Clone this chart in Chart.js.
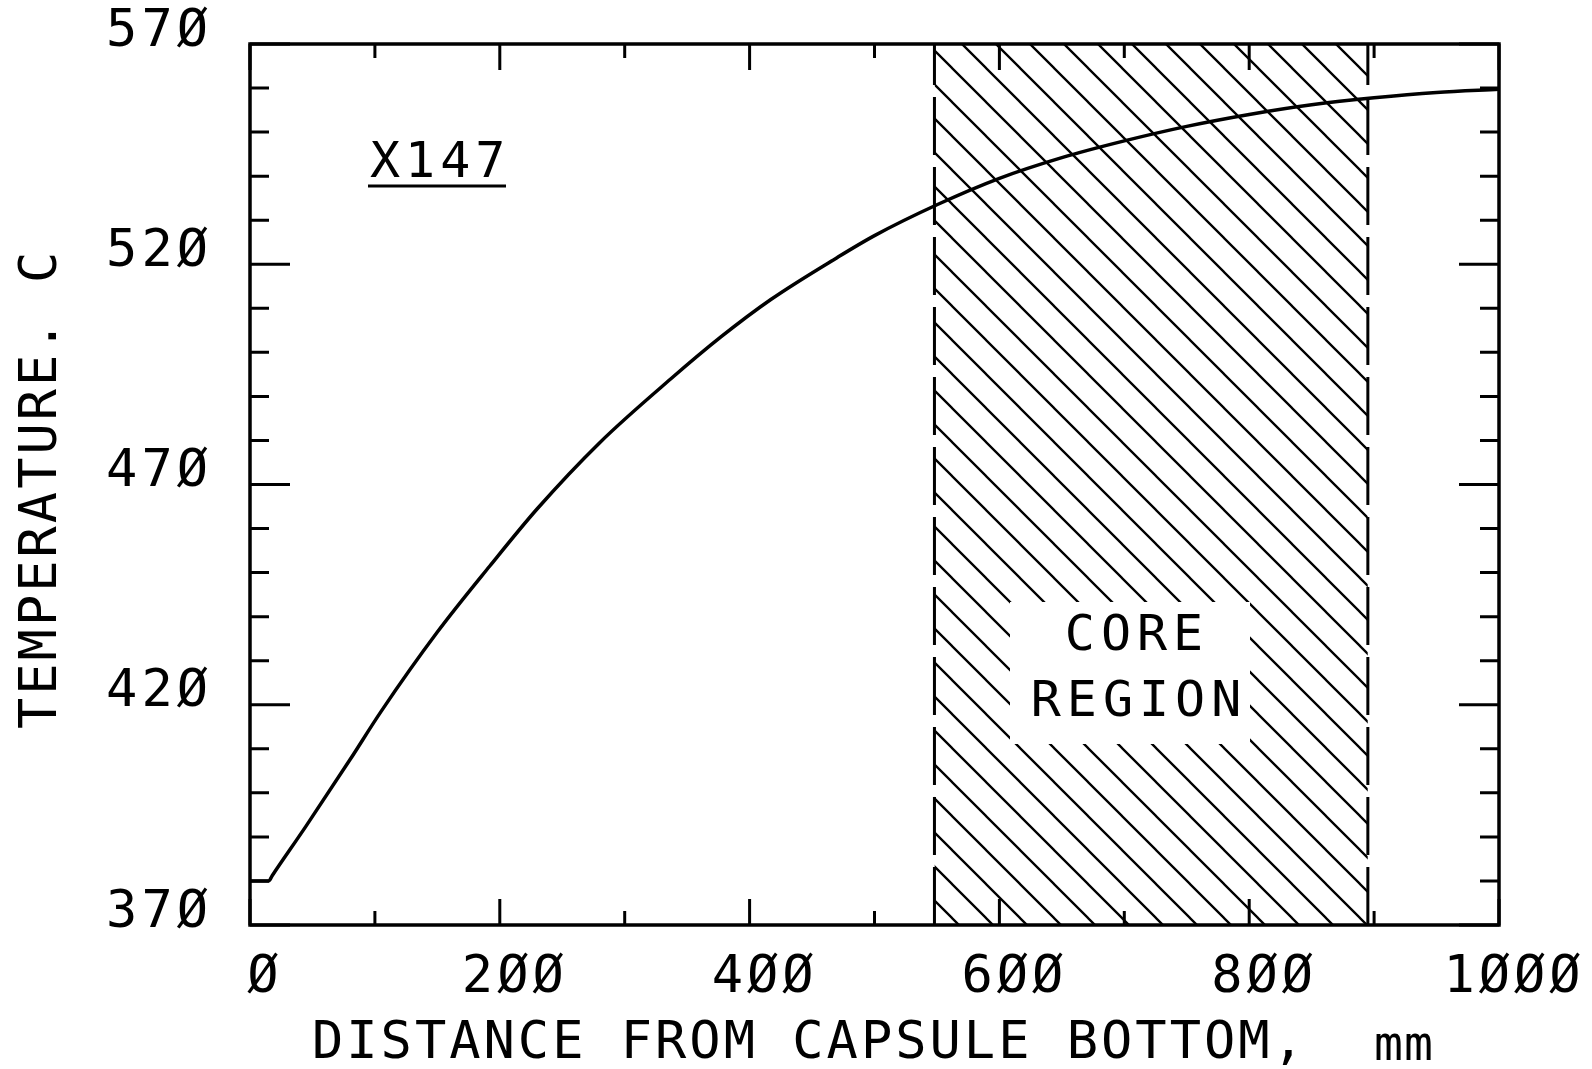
<!DOCTYPE html>
<html>
<head>
<meta charset="utf-8">
<title>Temperature along capsule X147</title>
<script src="https://cdn.jsdelivr.net/npm/chart.js@4.4.1/dist/chart.umd.min.js"></script>
<style>
  html, body { margin: 0; padding: 0; background: #fff; }
  canvas { display: block; }
</style>
</head>
<body>
<canvas id="chart" width="1592" height="1069"></canvas>
<script>
// Temperature profile along the capsule (distance in mm, temperature in C)
const distance = [0, 15, 18, 45, 80, 105, 150, 192, 230, 280, 337, 377, 417, 470, 500, 550, 600, 650, 700, 750, 800, 850, 900, 950, 1000];
const temperature = [380, 380, 381.3, 392.5, 407.5, 418.5, 436.5, 451.5, 464.5, 479.5, 494, 503.5, 512, 521.5, 526.5, 533.5, 539.5, 544.2, 548, 551.3, 554, 556.2, 557.8, 559, 559.7];

// Core region limits, mm
const coreRegion = [548, 895];

// Axis ranges and labelled ticks
const xRange = [0, 1000];
const yRange = [370, 570];
const xTickLabels = [0, 200, 400, 600, 800, 1000];
const yTickLabels = [370, 420, 470, 520, 570];
const xMinorStep = 100;
const yMinorStep = 10;

const FONT = "'DejaVu Sans Mono', 'Liberation Mono', monospace";

// plotter style zero with a slash
function slashZero(v) {
    return String(v).replace(/0/g, '\u00D8');
}

// diagonal hatching for the core region
function makeHatch(ctx) {
    const size = 34;
    const c = document.createElement('canvas');
    c.width = size;
    c.height = size;
    const g = c.getContext('2d');
    g.strokeStyle = '#000';
    g.lineWidth = 2.3;
    g.beginPath();
    for (let k = -1; k <= 1; k++) {
        g.moveTo(k * size - 2, -2);
        g.lineTo(k * size + size + 2, size + 2);
    }
    g.stroke();
    return ctx.createPattern(c, 'repeat');
}

function drawText(ctx, text, x, y, size, spacing, align) {
    ctx.save();
    ctx.font = size + 'px ' + FONT;
    ctx.letterSpacing = spacing + 'px';
    ctx.fillStyle = '#000';
    ctx.textAlign = align || 'left';
    ctx.textBaseline = 'alphabetic';
    ctx.fillText(text, x, y);
    ctx.restore();
}

// frame, inside ticks, labels and titles
const plotter = {
    id: 'plotter',
    beforeDraw(chart) {
        chart.ctx.letterSpacing = '4px';
    },
    afterDatasetsDraw(chart) {
        const ctx = chart.ctx;
        // clear the hatching behind the core label
        ctx.save();
        ctx.fillStyle = '#fff';
        ctx.fillRect(1010, 602, 240, 142);
        ctx.restore();
        drawText(ctx, 'CORE', 1137, 650, 50, 6, 'center');
        drawText(ctx, 'REGION', 1139, 716, 50, 6, 'center');
    },
    afterDraw(chart) {
        const ctx = chart.ctx;
        const a = chart.chartArea;
        const xs = chart.scales.x;
        const ys = chart.scales.y;

        ctx.save();
        ctx.strokeStyle = '#000';
        ctx.lineWidth = 3.5;
        ctx.strokeRect(a.left, a.top, a.right - a.left, a.bottom - a.top);

        ctx.lineWidth = 3;
        ctx.beginPath();
        for (let v = yRange[0]; v <= yRange[1]; v += yMinorStep) {
            const py = ys.getPixelForValue(v);
            const len = (v - yRange[0]) % 50 === 0 ? 40 : 19;
            ctx.moveTo(a.left, py);
            ctx.lineTo(a.left + len, py);
            ctx.moveTo(a.right, py);
            ctx.lineTo(a.right - len, py);
        }
        for (let v = xRange[0]; v <= xRange[1]; v += xMinorStep) {
            const px = xs.getPixelForValue(v);
            const len = v % 200 === 0 ? 26 : 14;
            ctx.moveTo(px, a.bottom);
            ctx.lineTo(px, a.bottom - len);
            ctx.moveTo(px, a.top);
            ctx.lineTo(px, a.top + len);
        }
        ctx.stroke();

        // sample id, underlined
        drawText(ctx, 'X147', 370, 177, 50, 5, 'left');
        ctx.lineWidth = 3;
        ctx.beginPath();
        ctx.moveTo(368, 186);
        ctx.lineTo(506, 186);
        ctx.stroke();

        // axis titles
        drawText(ctx, 'DISTANCE FROM CAPSULE BOTTOM,', 312, 1058, 52, 3, 'left');
        drawText(ctx, 'mm', 1374, 1060, 48, 1, 'left');

        ctx.save();
        ctx.translate(56, 729);
        ctx.rotate(-Math.PI / 2);
        drawText(ctx, 'TEMPERATURE. C', 0, 0, 52, 3, 'left');
        ctx.restore();

        ctx.restore();
    }
};

const ctx = document.getElementById('chart').getContext('2d');
const hatch = makeHatch(ctx);

new Chart(ctx, {
    type: 'line',
    data: {
        datasets: [
            {
                label: 'Temperature',
                data: distance.map((x, i) => ({ x: x, y: temperature[i] })),
                borderColor: '#000',
                borderWidth: 3.5,
                pointRadius: 0,
                cubicInterpolationMode: 'monotone',
                fill: false
            },
            {
                label: 'Core region',
                data: coreRegion.map(x => ({ x: x, y: yRange[1] })),
                borderWidth: 0,
                borderColor: 'rgba(0,0,0,0)',
                backgroundColor: hatch,
                pointRadius: 0,
                fill: 'start'
            },
            {
                label: 'Core start',
                data: [{ x: coreRegion[0], y: yRange[0] }, { x: coreRegion[0], y: yRange[1] }],
                borderColor: '#000',
                borderWidth: 3,
                borderDash: [58, 12],
                pointRadius: 0,
                fill: false
            },
            {
                label: 'Core end',
                data: [{ x: coreRegion[1], y: yRange[0] }, { x: coreRegion[1], y: yRange[1] }],
                borderColor: '#000',
                borderWidth: 3,
                borderDash: [58, 12],
                pointRadius: 0,
                fill: false
            }
        ]
    },
    options: {
        responsive: false,
        animation: false,
        devicePixelRatio: 1,
        layout: { padding: { top: 44, right: 93, left: 0, bottom: 0 } },
        plugins: {
            legend: { display: false },
            tooltip: { enabled: false }
        },
        scales: {
            x: {
                type: 'linear',
                min: xRange[0],
                max: xRange[1],
                afterBuildTicks: s => { s.ticks = xTickLabels.map(v => ({ value: v })); },
                afterFit: s => { s.height = 144; s.paddingLeft = 0; s.paddingRight = 0; },
                grid: { display: false },
                border: { display: false },
                ticks: {
                    autoSkip: false,
                    maxRotation: 0,
                    padding: 14,
                    labelOffset: 15,
                    color: '#000',
                    font: { family: FONT, size: 52 },
                    callback: v => slashZero(v)
                }
            },
            y: {
                type: 'linear',
                min: yRange[0],
                max: yRange[1],
                afterBuildTicks: s => { s.ticks = yTickLabels.map(v => ({ value: v })); },
                afterFit: s => { s.width = 250; s.paddingTop = 0; s.paddingBottom = 0; },
                grid: { display: false },
                border: { display: false },
                ticks: {
                    padding: 30,
                    labelOffset: -12,
                    color: '#000',
                    font: { family: FONT, size: 52 },
                    callback: v => slashZero(v)
                }
            }
        }
    },
    plugins: [plotter]
});
</script>
</body>
</html>
